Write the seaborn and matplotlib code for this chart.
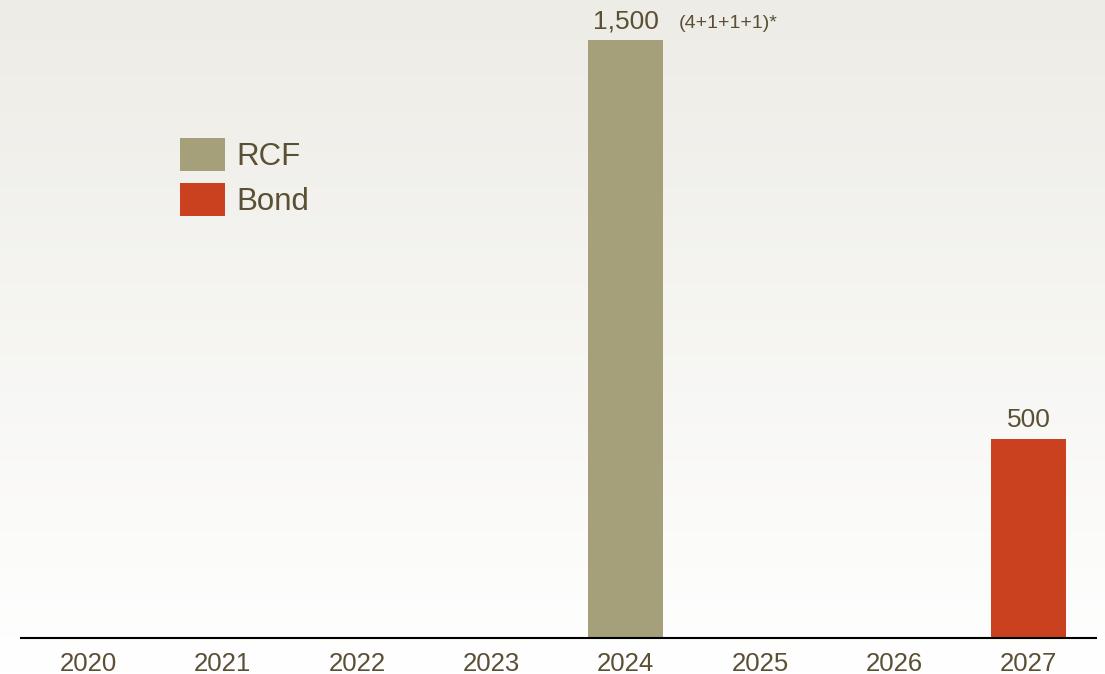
import numpy as np
import pandas as pd
import matplotlib
matplotlib.use("Agg")
import matplotlib.pyplot as plt
import seaborn as sns

YEARS = ["2020", "2021", "2022", "2023", "2024", "2025", "2026", "2027"]
RCF = [0, 0, 0, 0, 1500, 0, 0, 0]
BOND = [0, 0, 0, 0, 0, 0, 0, 500]
VALUE_LABELS = {"2024": "1,500", "2027": "500"}
RCF_NOTE = "(4+1+1+1)*"

COLORS = {"RCF": "#a59f7a", "Bond": "#c9411f"}
TEXT = "#5b5035"

sns.set_theme(style="white")
plt.rcParams["font.family"] = ["Liberation Sans", "DejaVu Sans"]

df = pd.concat([
    pd.DataFrame({"Year": YEARS, "Value": RCF, "Type": "RCF"}),
    pd.DataFrame({"Year": YEARS, "Value": BOND, "Type": "Bond"}),
])

fig = plt.figure(figsize=(11.05, 6.74), dpi=100)

# background gradient, light beige at top fading to white
bg = fig.add_axes([0, 0, 1, 1], zorder=0)
grad = np.linspace(0, 1, 256)[:, None]
top = np.array([237, 236, 230]) / 255
bot = np.array([255, 255, 255]) / 255
img = top[None, None, :] * (1 - grad[..., None]) + bot[None, None, :] * grad[..., None]
bg.imshow(img, aspect="auto", extent=[0, 1, 0, 1])
bg.axis("off")

ax = fig.add_axes([21 / 1105, 36 / 674, (1096 - 21) / 1105, 638 / 674], zorder=1)
ax.patch.set_alpha(0)
sns.barplot(data=df, x="Year", y="Value", hue="Type", palette=COLORS,
            dodge=False, width=0.56, ax=ax, saturation=1, legend=True,
            edgecolor="none", linewidth=0)

ax.set_xlim(-0.5, 7.5)
ax.set_ylim(0, 1500 * 638 / 598)
ax.set_xlabel("")
ax.set_ylabel("")
ax.set_yticks([])
for s in ["top", "right", "left"]:
    ax.spines[s].set_visible(False)
ax.spines["bottom"].set_color("black")
ax.spines["bottom"].set_linewidth(1.5)
ax.tick_params(axis="x", length=0, pad=10, labelsize=18.5, labelcolor=TEXT)

vals = dict(zip(YEARS, np.array(RCF) + np.array(BOND)))
for i, y in enumerate(YEARS):
    if y in VALUE_LABELS:
        ax.annotate(VALUE_LABELS[y], (i, vals[y]), xytext=(0, 4.5),
                    textcoords="offset points", ha="center", va="bottom",
                    fontsize=19, color=TEXT)
i24 = YEARS.index("2024")
ax.annotate(RCF_NOTE, (i24 + 0.28, vals["2024"]), xytext=(11, 6),
            textcoords="offset points", ha="left", va="bottom",
            fontsize=14, color=TEXT)

leg = ax.legend(loc="upper left", bbox_to_anchor=(159 / 1075, 1 - 138 / 638),
                frameon=False, fontsize=22.5, handlelength=1.45, handleheight=1.23,
                labelspacing=0.36, handletextpad=0.35, borderaxespad=0,
                borderpad=0)
for t in leg.get_texts():
    t.set_color(TEXT)
for h in leg.legend_handles:
    h.set_edgecolor("none")

fig.savefig("out.png", dpi=100)
